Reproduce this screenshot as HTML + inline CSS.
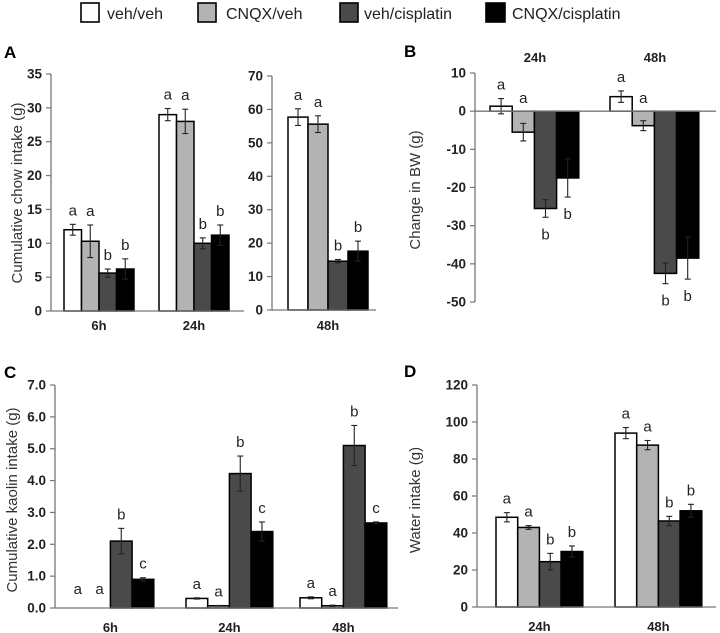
<!DOCTYPE html>
<html><head><meta charset="utf-8"><style>
html,body{margin:0;padding:0;background:#fff;}
svg{display:block;font-family:"Liberation Sans",sans-serif;}
</style></head><body>
<svg id="fig" width="720" height="633" viewBox="0 0 720 633" xmlns="http://www.w3.org/2000/svg">
<g font-size="16" fill="#222">
 <g><rect x="81" y="3" width="18" height="19" fill="#fff" stroke="#000" stroke-width="1.6"/><text x="107" y="19">veh/veh</text></g>
 <g><rect x="198" y="3" width="18" height="19" fill="#b3b3b3" stroke="#000" stroke-width="1.6"/><text x="226" y="19">CNQX/veh</text></g>
 <g><rect x="340" y="3" width="18" height="19" fill="#4a4a4a" stroke="#000" stroke-width="1.6"/><text x="364" y="19">veh/cisplatin</text></g>
 <g><rect x="486" y="3" width="19" height="19" fill="#000" stroke="#000" stroke-width="1.6"/><text x="512" y="19">CNQX/cisplatin</text></g>
</g>
<g font-weight="bold" font-size="17" fill="#000">
 <text x="4" y="58">A</text>
 <text x="404" y="57">B</text>
 <text x="4" y="378">C</text>
 <text x="404" y="377">D</text>
</g>
<g font-size="15" fill="#333">
 <text transform="translate(22,193) rotate(-90)" text-anchor="middle">Cumulative chow intake (g)</text>
 <text transform="translate(420,190) rotate(-90)" text-anchor="middle">Change in BW (g)</text>
 <text transform="translate(17,500) rotate(-90)" text-anchor="middle">Cumulative kaolin intake (g)</text>
 <text transform="translate(420,500) rotate(-90)" text-anchor="middle">Water intake (g)</text>
</g>
</svg>
<script>
// ---- data ----
const seriesNames = ['veh/veh','CNQX/veh','veh/cisplatin','CNQX/cisplatin'];
const aLeftGroups = ['6h','24h'];
const aLeftValues = [[12,10.3,5.6,6.2],[29,28,10,11.2]];
const aLeftErrors = [[0.8,2.4,0.6,1.5],[0.9,1.8,0.8,1.5]];
const aLeftLetters = [['a','a','b','b'],['a','a','b','b']];
const aLeftTicks = [0,5,10,15,20,25,30,35];
const aRightGroups = ['48h'];
const aRightValues = [[57.7,55.6,14.6,17.6]];
const aRightErrors = [[2.5,2.5,0.5,3]];
const aRightLetters = [['a','a','b','b']];
const aRightTicks = [0,10,20,30,40,50,60,70];
const bGroups = ['24h','48h'];
const bValues = [[1.3,-5.5,-25.5,-17.5],[3.8,-3.8,-42.5,-38.5]];
const bErrors = [[2,2.3,2.3,5],[1.5,1.3,2.7,5.5]];
const bLetters = [['a','a','b','b'],['a','a','b','b']];
const bTicks = [-50,-40,-30,-20,-10,0,10];
const cGroups = ['6h','24h','48h'];
const cValues = [[0,0,2.1,0.9],[0.3,0.07,4.22,2.4],[0.32,0.07,5.1,2.67]];
const cErrors = [[0,0,0.4,0.05],[0.02,0.01,0.55,0.3],[0.03,0.02,0.63,0.03]];
const cLetters = [['a','a','b','c'],['a','a','b','c'],['a','a','b','c']];
const cTicks = [0,1,2,3,4,5,6,7];
const dGroups = ['24h','48h'];
const dValues = [[48.5,43,24.5,30],[94,87.5,46.5,52]];
const dErrors = [[2.5,1,4.5,3],[3,2.5,2.5,3.5]];
const dLetters = [['a','a','b','b'],['a','a','b','b']];
const dTicks = [0,20,40,60,80,100,120];

const fills = ['#ffffff','#b3b3b3','#4a4a4a','#000000'];
const svg = document.getElementById('fig');
const NS = 'http://www.w3.org/2000/svg';
function mk(tag, attrs, parent){
  const e = document.createElementNS(NS, tag);
  for (const k in attrs) e.setAttribute(k, attrs[k]);
  (parent||svg).appendChild(e);
  return e;
}

function panel(cfg){
  const g = mk('g', {});
  
  
  const y = v => cfg.y0 + (v - cfg.min) / (cfg.max - cfg.min) * (cfg.y1 - cfg.y0);
  const base = y(Math.max(cfg.min, 0));
  const ax = mk('line', {x1:cfg.ax, x2:cfg.ax, y1:y(cfg.max), y2:y(cfg.min), stroke:'#777', 'stroke-width':1.3}, g);
  
  
  cfg.ticks.forEach(t => {
    mk('line', {x1:cfg.ax-5, x2:cfg.ax, y1:y(t), y2:y(t), stroke:'#777', 'stroke-width':1.2}, g);
    const tx = mk('text', {x:cfg.ax-9, y:y(t)+4.5, 'text-anchor':'end', 'font-size':13.5, 'font-weight':'bold', fill:'#222'}, g);
    tx.textContent = cfg.fmt ? cfg.fmt(t) : t;
    
    
  });
  cfg.values.forEach((grp, gi) => {
    const gx = cfg.starts[gi];
    grp.forEach((v, si) => {
      const x = gx + si * cfg.bw;
      const top = Math.min(y(v), base), h = Math.abs(y(v) - base);
      if (h > 0.2) {
        const r = mk('rect', {x:x, y:top, width:cfg.bw, height:h, fill:fills[si], stroke:'#000', 'stroke-width':1.5}, g);
        
        
      }
      const e = cfg.errors[gi][si];
      const cx = x + cfg.bw/2;
      if (e > 0) {
        const ya = y(v + e), yb = y(v - e);
        mk('line', {x1:cx, x2:cx, y1:ya, y2:yb, stroke:'#222', 'stroke-width':1.1}, g);
        mk('line', {x1:cx-3, x2:cx+3, y1:ya, y2:ya, stroke:'#222', 'stroke-width':1.1}, g);
        mk('line', {x1:cx-3, x2:cx+3, y1:yb, y2:yb, stroke:'#222', 'stroke-width':1.1}, g);
      }
      let ly;
      if (v > 0) ly = y(v + e) - 9;
      else if (v === 0) ly = base - 14;
      else if (v > -8) ly = base - 8;
      else ly = y(v - e) + 22;
      const lt = mk('text', {x:cx, y:ly, 'text-anchor':'middle', 'font-size':15, fill:'#222'}, g);
      lt.textContent = cfg.letters[gi][si];
      
      
    });
    const lab = mk('text', {x:gx + 2*cfg.bw, y:cfg.labelY, 'text-anchor':'middle', 'font-size':13, 'font-weight':'bold', fill:'#222'}, g);
    lab.textContent = cfg.groups[gi];
    
    
  });
  const bl = mk('line', {x1:cfg.ax, x2:cfg.axEnd, y1:base, y2:base, stroke:'#777', 'stroke-width':1.3}, g);
  
  
}

panel({name:'panel-a-left', ax:51, axEnd:244, y0:311, y1:74, min:0, max:35, ticks:aLeftTicks,
  groups:aLeftGroups, values:aLeftValues, errors:aLeftErrors, letters:aLeftLetters, starts:[64,159], bw:17.5, labelY:330});
panel({name:'panel-a-right', ax:272, axEnd:376, y0:310, y1:76, min:0, max:70, ticks:aRightTicks,
  groups:aRightGroups, values:aRightValues, errors:aRightErrors, letters:aRightLetters, starts:[288], bw:20, labelY:330});
panel({name:'panel-b', ax:475, axEnd:716, y0:302, y1:73, min:-50, max:10, ticks:bTicks,
  groups:bGroups, values:bValues, errors:bErrors, letters:bLetters, starts:[490,610], bw:22.2, labelY:-1000});
panel({name:'panel-c', ax:55, axEnd:398, y0:608, y1:385, min:0, max:7, ticks:cTicks, fmt:t=>t.toFixed(1),
  groups:cGroups, values:cValues, errors:cErrors, letters:cLetters, starts:[67,186,300], bw:21.7, labelY:632});
panel({name:'panel-d', ax:477, axEnd:716, y0:607, y1:385, min:0, max:120, ticks:dTicks,
  groups:dGroups, values:dValues, errors:dErrors, letters:dLetters, starts:[496,615], bw:21.7, labelY:631});
bGroups.forEach((gname, i) => {
  const t = mk('text', {x:[535,655][i], y:62, 'text-anchor':'middle', 'font-size':13, 'font-weight':'bold', fill:'#222'});
  t.textContent = gname;
  
  
});
</script>
</body></html>
